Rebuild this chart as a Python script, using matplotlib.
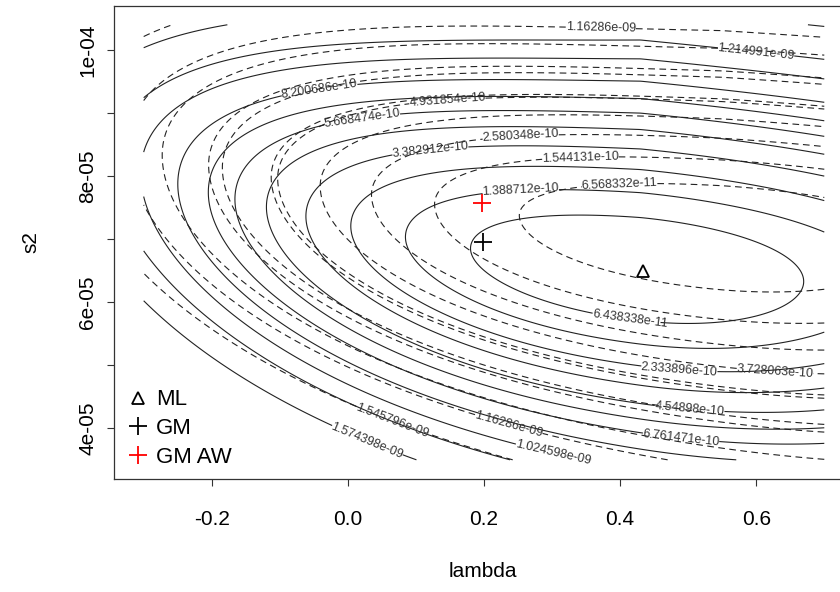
import numpy as np
import matplotlib
matplotlib.use("Agg")
import matplotlib.pyplot as plt

plt.rcParams['font.family'] = ['Liberation Sans', 'DejaVu Sans']

# grid over which both surfaces are evaluated
lam_lim = [-0.3, 0.7]
s2_lim = [3.5e-05, 1.04e-04]

# contour levels (solid / dashed), as labelled in the picture
levels_solid = [6.438338e-11, 1.388712e-10, 2.333896e-10, 3.382912e-10, 4.54898e-10,
                5.668474e-10, 6.761471e-10, 8.200686e-10, 1.024598e-09, 1.214991e-09,
                1.574398e-09]
levels_dash = [6.568332e-11, 1.544131e-10, 2.580348e-10, 3.728063e-10, 4.931854e-10,
               5.137856e-10, 6.908082e-10, 7.480967e-10, 9.692985e-10, 1.16286e-09,
               1.545796e-09]

# shape of each surface:
# centre lambda, centre s2 (1e-5), curvature left / right of centre, steepening h,
# curvature above / below the ridge, narrowing above gu, widening below g,
# ridge tilt b, ridge bend q
shape_solid = [0.43, 6.5, 11.7, 17.4, 1.26, 1.41, 1.59, 0.3, 0.22, -1.056, 1.42]
shape_dash = [0.55, 7.08, 7.73, 11.2, 1.26, 1.7, 1.28, 0.15, 0.24, -0.70, 1.0]

# which level each label sits on, near which (lambda, s2)
lab_solid = [(0, 0.415, 5.75e-5), (1, 0.253, 7.81e-5), (2, 0.488, 4.99e-5),
             (3, 0.121, 8.56e-5), (4, 0.503, 4.35e-5), (5, 0.018, 9.24e-5),
             (6, 0.488, 3.81e-5), (7, -0.048, 9.84e-5), (8, 0.307, 3.89e-5),
             (10, 0.045, 4.26e-5), (9, 0.131, 4.0e-5), (9, 0.606, 10.6e-5)]
lab_dash = [(0, 0.40, 7.89e-5), (1, 0.341, 8.41e-5), (2, 0.253, 8.86e-5),
            (3, 0.628, 4.88e-5), (4, 0.143, 9.65e-5), (5, 0.628, 4.26e-5),
            (6, 0.577, 3.86e-5), (7, -0.063, 10.35e-5), (8, 0.37, 3.58e-5),
            (8, 0.518, 9.37e-5), (9, 0.224, 3.58e-5), (9, 0.37, 9.84e-5),
            (10, 0.045, 3.58e-5), (10, 0.613, 10.11e-5)]

# estimates
pt_names = ['ML', 'GM', 'GM AW']
pt_lambda = [0.434, 0.198, 0.197]
pt_s2 = [6.5e-05, 6.95e-05, 7.57e-05]

PX_L = 680.5     # pixels per unit of lambda
PX_S = 6.305e6   # pixels per unit of s2


def surface(lam, s2, shape, base):
    l0, s0, a_l, a_r, h, c_up, c_lo, gu, g, b, q = shape
    dl = lam - l0
    ds = s2 * 1e5 - s0 - b * dl - q * dl ** 2
    a = np.where(dl < 0, a_l * np.exp(-h * dl), a_r)
    c = np.where(ds > 0, c_up * np.exp(-2 * gu * np.minimum(dl, 0)),
                 c_lo * np.exp(-2 * g * dl))
    return base * (a * dl ** 2 + c * ds ** 2)


def label_spots(cs, specs, taken, maxd=45):
    # nearest point of the given level to each wanted spot, skipping crowded ones
    spots = []
    for i, lt, st in specs:
        best = None
        for seg in cs.allsegs[i]:
            if len(seg) == 0:
                continue
            d = ((seg[:, 0] - lt) * PX_L) ** 2 + ((seg[:, 1] - st) * PX_S) ** 2
            k = np.argmin(d)
            if best is None or d[k] < best[0]:
                best = (d[k], seg[k, 0], seg[k, 1])
        if best is None or best[0] > maxd ** 2:
            continue
        x, y = best[1] * PX_L, best[2] * PX_S
        if any(abs(x - tx) < 88 and abs(y - ty) < 16 for tx, ty in taken):
            continue
        taken.append((x, y))
        spots.append((best[1], best[2]))
    return spots


lam = np.linspace(lam_lim[0], lam_lim[1], 400)
s2 = np.linspace(s2_lim[0], s2_lim[1], 400)
L, S = np.meshgrid(lam, s2)
z_solid = surface(L, S, shape_solid, levels_solid[0])
z_dash = surface(L, S, shape_dash, levels_dash[0])

fig = plt.figure(figsize=(8.4, 5.92), dpi=100)
ax = fig.add_axes([0.1354, 0.1909, 0.8783, 0.7990])

cs1 = ax.contour(L, S, z_solid, levels=levels_solid, colors='#222222',
                 linewidths=0.8, linestyles='solid')
cs2 = ax.contour(L, S, z_dash, levels=levels_dash, colors='#222222',
                 linewidths=0.8, linestyles=[(0, (6, 4))])

fmt1 = {v: '%.7g' % v for v in levels_solid}
fmt2 = {v: '%.7g' % v for v in levels_dash}
taken = []
spots1 = label_spots(cs1, lab_solid, taken)
spots2 = label_spots(cs2, lab_dash, taken)
ax.clabel(cs1, fmt=fmt1, manual=spots1, inline=True, inline_spacing=3,
          fontsize=9, colors='#333333')
ax.clabel(cs2, fmt=fmt2, manual=spots2, inline=True, inline_spacing=3,
          fontsize=9, colors='#333333')

ax.plot(pt_lambda[0], pt_s2[0], marker='^', mfc='none', mec='black', ms=9, mew=1.3,
        ls='none', label=pt_names[0])
ax.plot(pt_lambda[1], pt_s2[1], marker='+', color='black', ms=13, mew=1.3,
        ls='none', label=pt_names[1])
ax.plot(pt_lambda[2], pt_s2[2], marker='+', color='red', ms=13, mew=1.3,
        ls='none', label=pt_names[2])

ax.set_xlim(-0.344, 0.74)
ax.set_ylim(3.196e-05, 1.0698e-04)
ax.set_xticks([-0.2, 0.0, 0.2, 0.4, 0.6])
ax.set_xticklabels(['-0.2', '0.0', '0.2', '0.4', '0.6'])
yt = [4e-05, 5e-05, 6e-05, 7e-05, 8e-05, 9e-05, 1e-04]
ax.set_yticks(yt)
ax.set_yticklabels(['4e-05', '', '6e-05', '', '8e-05', '', '1e-04'],
                   rotation=90, va='center')
ax.tick_params(length=5, width=0.8, labelsize=15, color='#333333')
ax.tick_params(axis='x', pad=17)
ax.tick_params(axis='y', pad=7)
for sp in ax.spines.values():
    sp.set_linewidth(0.9)
    sp.set_color('#333333')
ax.set_xlabel('lambda', fontsize=15, labelpad=24)
ax.set_ylabel('s2', fontsize=15, labelpad=27)

ax.legend(loc='lower left', frameon=False, fontsize=16, handletextpad=0.2,
          borderaxespad=0.1, labelspacing=0.35, handlelength=1.2,
          borderpad=0.4)

fig.savefig('out.png', dpi=100)
